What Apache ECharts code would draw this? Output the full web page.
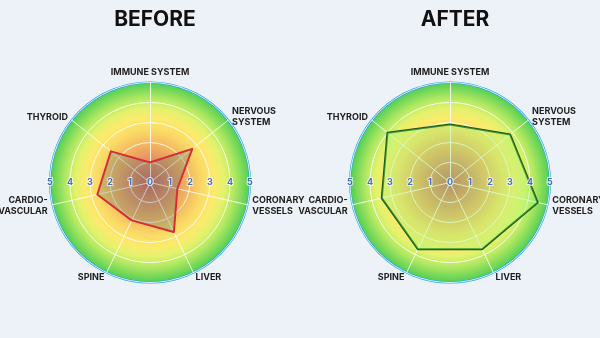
<!DOCTYPE html>
<html>
<head>
<meta charset="utf-8">
<script src="https://cdn.jsdelivr.net/npm/echarts@6/dist/echarts.min.js"></script>
<style>
html,body{margin:0;padding:0;background:#edf1f8;}
#c{width:600px;height:338px;}
</style>
</head>
<body>
<div id="c"></div>
<script>
// Data
const indicatorNames = ['IMMUNE SYSTEM', 'NERVOUS\nSYSTEM', 'CORONARY\nVESSELS', 'LIVER', 'SPINE', 'CARDIO-\nVASCULAR', 'THYROID'];
const beforeValues = [1, 2.7, 1.4, 2.75, 2.1, 2.7, 2.5];
const afterValues = [2.9, 3.85, 4.5, 3.7, 3.7, 3.5, 4];
const tickValues = [0, 1, 2, 3, 4, 5];
const panelTitles = ['BEFORE', 'AFTER'];
const maxValue = 5;

const FONT = 'Inter, "Noto Sans", sans-serif';
const centers = [['25%', '54%'], ['75%', '54%']];
const R = 100;

// ECharts radar lays indicators counter-clockwise; reorder so they run clockwise
const order = [0].concat(indicatorNames.map((_, i) => i).slice(1).reverse());
const reorder = arr => order.map(i => arr[i]);

const chart = echarts.init(document.getElementById('c'));

const bgGradient = () => new echarts.graphic.RadialGradient(0.5, 0.5, 0.5, [
  {offset: 0, color: '#c65f5f'},
  {offset: 0.2, color: '#de8a60'},
  {offset: 0.38, color: '#f3b660'},
  {offset: 0.52, color: '#fada66'},
  {offset: 0.64, color: '#fcea6c'},
  {offset: 0.74, color: '#e2f26c'},
  {offset: 0.84, color: '#b0e862'},
  {offset: 0.93, color: '#78d858'},
  {offset: 1, color: '#48cc58'}
]);

const radars = centers.map(c => ({
  center: c,
  radius: R,
  shape: 'circle',
  splitNumber: 5,
  startAngle: 90,
  z: 3,
  indicator: reorder(indicatorNames).map(n => ({name: n, max: maxValue, min: 0})),
  axisName: {color: '#1e1e1e', fontFamily: FONT, fontWeight: 'bold', fontSize: 9, lineHeight: 11},
  nameGap: 5,
  axisLine: {lineStyle: {color: 'rgba(255,255,255,0.85)', width: 1}},
  splitLine: {lineStyle: {color: 'rgba(255,255,255,0.85)', width: 1}},
  splitArea: {show: false},
  axisTick: {show: false},
  axisLabel: {show: false}
}));

const polars = [];
const angleAxes = [];
const radiusAxes = [];
centers.forEach((c, ci) => {
  [0, 180].forEach(sa => {
    const idx = polars.length;
    polars.push({center: c, radius: R});
    angleAxes.push({polarIndex: idx, startAngle: sa, show: false, min: 0, max: 360});
    radiusAxes.push({
      polarIndex: idx, min: tickValues[0], max: tickValues[tickValues.length - 1], interval: 1,
      z: 10,
      axisLine: {show: false}, axisTick: {show: false}, splitLine: {show: false},
      axisLabel: {
        show: true, margin: 0, verticalAlign: 'middle', align: 'center',
        color: '#4570c4', fontSize: 9, fontWeight: 'bold', fontFamily: FONT,
        textBorderColor: 'rgba(255,255,255,0.7)', textBorderWidth: 2,
        showMinLabel: sa === 0
      }
    });
  });
});

const series = [];
centers.forEach((c, ci) => {
  series.push({
    type: 'pie', silent: true, center: c, radius: [0, R], z: 0,
    label: {show: false}, labelLine: {show: false},
    itemStyle: {color: bgGradient(), borderColor: '#1f9fe4', borderWidth: 2},
    data: [{value: 1}]
  });
});
series.push({
  type: 'radar', radarIndex: 0, z: 5, symbol: 'none', silent: true,
  lineStyle: {color: '#e8202a', width: 2},
  areaStyle: {color: 'rgba(105,130,110,0.45)'},
  data: [{value: reorder(beforeValues), name: panelTitles[0]}]
});
series.push({
  type: 'radar', radarIndex: 1, z: 5, symbol: 'none', silent: true,
  lineStyle: {color: '#175a17', width: 2},
  areaStyle: {color: 'rgba(150,250,120,0.5)'},
  data: [{value: reorder(afterValues), name: panelTitles[1]}]
});

chart.setOption({
  backgroundColor: '#edf1f8',
  animation: false,
  title: panelTitles.map((t, i) => ({
    text: t, left: centers[i][0], top: 4, textAlign: 'center',
    textStyle: {fontFamily: FONT, fontWeight: 'bold', fontSize: 21, color: '#111'}
  })),
  radar: radars,
  polar: polars,
  angleAxis: angleAxes,
  radiusAxis: radiusAxes,
  series: series
});
</script>
</body>
</html>
